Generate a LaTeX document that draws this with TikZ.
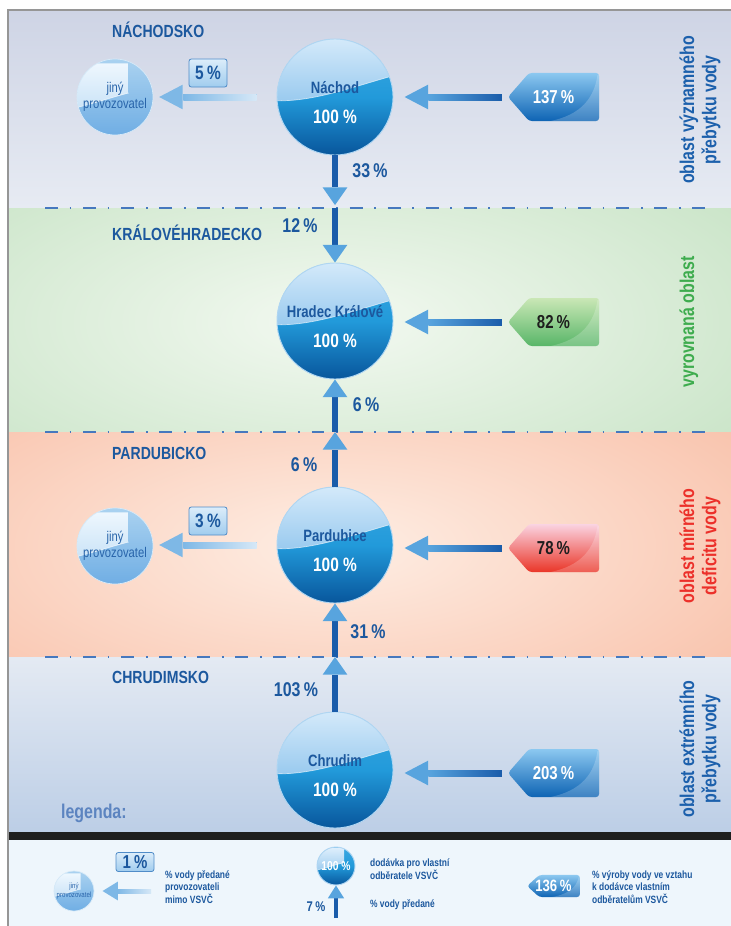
\documentclass[tikz,border=0pt]{standalone}
\usepackage{fontspec}
\setmainfont[FakeStretch=0.8]{Liberation Sans}
\usetikzlibrary{calc,positioning,arrows.meta}

\definecolor{titleblue}{RGB}{28,88,158}
\definecolor{sideblue}{RGB}{28,96,172}
\definecolor{sidegreen}{RGB}{62,172,78}
\definecolor{sidered}{RGB}{236,48,42}
\definecolor{legblue}{RGB}{92,132,192}
\definecolor{bandNtop}{RGB}{206,212,229}
\definecolor{bandNbot}{RGB}{231,235,243}
\definecolor{bandHout}{RGB}{197,226,195}
\definecolor{bandHin}{RGB}{243,249,241}
\definecolor{bandPout}{RGB}{248,190,166}
\definecolor{bandPin}{RGB}{254,238,228}
\definecolor{bandCtop}{RGB}{228,234,243}
\definecolor{bandCbot}{RGB}{188,206,230}
\definecolor{legendbg}{RGB}{238,246,252}
\definecolor{framegray}{RGB}{150,150,150}
\definecolor{dashblue}{RGB}{70,120,190}
\definecolor{ballcap}{RGB}{222,239,252}
\definecolor{ballcapdark}{RGB}{150,200,238}
\definecolor{balltop}{RGB}{60,168,226}
\definecolor{ballmid}{RGB}{34,154,218}
\definecolor{ballbot}{RGB}{8,86,156}
\definecolor{ballrim}{RGB}{176,214,242}
\definecolor{jinytop}{RGB}{170,210,240}
\definecolor{jinybot}{RGB}{112,174,228}
\definecolor{jinycap}{RGB}{238,247,254}
\definecolor{jinycapdark}{RGB}{198,225,246}
\definecolor{jinytext}{RGB}{40,100,170}
\definecolor{shaft}{RGB}{26,92,170}
\definecolor{head}{RGB}{88,164,222}
\definecolor{lighthead}{RGB}{126,184,230}
\definecolor{lightfade}{RGB}{214,232,247}
\definecolor{boxtop}{RGB}{220,237,250}
\definecolor{boxbot}{RGB}{160,204,238}
\definecolor{boxline}{RGB}{80,140,200}
\definecolor{tagbluetop}{RGB}{140,200,240}
\definecolor{tagbluebot}{RGB}{14,100,180}
\definecolor{taggreentop}{RGB}{202,231,182}
\definecolor{taggreenbot}{RGB}{88,182,104}
\definecolor{tagredtop}{RGB}{250,212,226}
\definecolor{tagredbot}{RGB}{234,54,40}
\definecolor{tagdark}{RGB}{30,30,30}
\definecolor{barblack}{RGB}{30,30,30}

\def\ballwave#1#2#3{%
  \begin{scope}[shift={(path picture bounding box.center)}, x=#1, y=#1]
    \shade[top color=#2, bottom color=#3] (-1.2,1.2) -- (-1.2,-0.05)
      .. controls (-0.45,-0.14) and (0.35,0.2) .. (1.2,0.42) -- (1.2,1.2) -- cycle;
    \draw[white, opacity=.6, line width=.6pt] (-1.2,-0.05)
      .. controls (-0.45,-0.14) and (0.35,0.2) .. (1.2,0.42);
  \end{scope}}
% tag outline: centre x, centre y, scaling, shading
\def\tagshape#1#2#3#4{%
  \begin{scope}[shift={(#1,#2)}, #3]
    \shade[#4, rounded corners=2.5pt] (-45.5,0) -- (-24.5,-24) -- (45.5,-24) -- (45.5,24) -- (-24.5,24) -- cycle;
    \begin{scope}
      \clip[rounded corners=2.5pt] (-45.5,0) -- (-24.5,-24) -- (45.5,-24) -- (45.5,24) -- (-24.5,24) -- cycle;
      \fill[white, opacity=.2] (-8,25) .. controls (22,20) and (40,6) .. (44,-22) -- (47,-22) -- (47,25) -- cycle;
    \end{scope}
  \end{scope}}

\tikzset{
  ball/.style={circle, inner sep=0pt, draw=ballrim, line width=.8pt,
    top color=balltop, bottom color=ballbot, middle color=ballmid},
  bigball/.style={ball, minimum size=3.48cm, path picture={\ballwave{1.74cm}{ballcap}{ballcapdark}}},
  legball/.style={ball, minimum size=1.14cm, path picture={\ballwave{0.57cm}{ballcap}{ballcapdark}},
    text=white, font=\bfseries\fontsize{11}{11}\selectfont},
  jinyball/.style={circle, inner sep=0pt, draw=ballrim!50!white, line width=.6pt,
    top color=jinytop, bottom color=jinybot, minimum size=2.28cm, align=center,
    text=jinytext, font=\fontsize{12}{14}\selectfont,
    path picture={\ballwave{1.14cm}{jinycap}{jinycapdark}}},
  legjiny/.style={jinyball, minimum size=1.2cm, font=\fontsize{6.5}{7.5}\selectfont,
    path picture={\ballwave{0.6cm}{jinycap}{jinycapdark}}},
  ballname/.style={text=titleblue, font=\bfseries\fontsize{14}{14}\selectfont},
  ballpct/.style={text=white, font=\bfseries\fontsize{16.5}{16.5}\selectfont},
  region/.style={anchor=west, text=titleblue, font=\bfseries\fontsize{15}{15}\selectfont},
  sidetext/.style={rotate=90, align=center, font=\bfseries\fontsize{17}{19}\selectfont},
  flowpct/.style={text=titleblue, font=\bfseries\fontsize{17}{17}\selectfont},
  legtext/.style={anchor=west, align=left, text=titleblue, font=\bfseries\fontsize{9}{10.6}\selectfont},
  pctbox/.style={draw=boxline, line width=.7pt, rounded corners=2pt, top color=boxtop,
    bottom color=boxbot, minimum width=1.14cm, minimum height=0.84cm, inner sep=0pt,
    text=titleblue, font=\bfseries\fontsize{16.5}{16.5}\selectfont},
  tagtext/.style={minimum width=2.73cm, minimum height=1.44cm, inner sep=0pt,
    font=\bfseries\fontsize{16}{16}\selectfont},
  banddash/.style={dashblue, line width=1.2pt, dash pattern=on 11pt off 10pt on 1.5pt off 10pt},
  vflow/.style={draw=shaft, line width=4.5pt,
    -{Triangle[length=15pt, width=21pt, line width=0pt, color=head]}},
  hflow/.style={draw=head, line width=5pt, shorten <=5pt, shorten >=9.5pt,
    -{Triangle[length=20pt, width=21pt, line width=0pt, color=head]}},
  lflow/.style={draw=lighthead, line width=5pt, shorten <=17pt, shorten >=5pt,
    -{Triangle[length=20pt, width=21pt, line width=0pt, color=lighthead]}},
  leglflow/.style={draw=lighthead, line width=3.5pt, shorten >=7pt,
    -{Triangle[length=13pt, width=16pt, line width=0pt, color=lighthead]}},
  legvflow/.style={draw=shaft, line width=3pt,
    -{Triangle[length=11pt, width=14pt, line width=0pt, color=head]}}
}

\begin{document}
\begin{tikzpicture}[x=0.03cm, y=-0.03cm]
  \useasboundingbox (0,0) rectangle (731,926);
  \fill[white] (0,0) rectangle (731,926);

  %%% bands
  \shade[top color=bandNtop, bottom color=bandNbot] (8,10) rectangle (731,208);
  \fill[bandHout] (8,208) rectangle (731,432);
  \begin{scope}
    \clip (8,208) rectangle (731,432);
    \shade[inner color=bandHin, outer color=bandHout] (335,322) ellipse (560 and 230);
  \end{scope}
  \fill[bandPout] (8,432) rectangle (731,657);
  \begin{scope}
    \clip (8,432) rectangle (731,657);
    \shade[inner color=bandPin, outer color=bandPout] (335,547) ellipse (560 and 230);
  \end{scope}
  \shade[top color=bandCtop, bottom color=bandCbot] (8,657) rectangle (731,833);
  \fill[barblack] (8,832) rectangle (731,840);
  \fill[legendbg] (8,840) rectangle (731,926);
  \draw[framegray, line width=1.2pt] (8,926) -- (8,10) -- (731,10);

  \draw[banddash] (45,208) -- (715,208);
  \draw[banddash] (45,432) -- (715,432);
  \draw[banddash] (45,657) -- (715,657);

  %%% region names
  \node[region] (nachodsko) at (108,30) {NÁCHODSKO};
  \node[region] (hradecko) at (108,233) {KRÁLOVÉHRADECKO};
  \node[region] (pardubicko) at (108,453) {PARDUBICKO};
  \node[region] (chrudimsko) at (108,677) {CHRUDIMSKO};

  \node[sidetext, text=sideblue] (sideN) at (700,110) {oblast významného\\přebytku vody};
  \node[sidetext, text=sidegreen] (sideH) at (689,322) {vyrovnaná oblast};
  \node[sidetext, text=sidered] (sideP) at (700,546) {oblast mírného\\deficitu vody};
  \node[sidetext, text=sideblue] (sideC) at (700,749) {oblast extrémního\\přebytku vody};

  %%% balls
  \node[bigball] (nachod) at (335,97) {};
  \node[bigball] (hradec) at (335,321) {};
  \node[bigball] (pardubice) at (335,545) {};
  \node[bigball] (chrudim) at (335,770) {};

  \node[ballname] (nachodname) at ($(nachod)+(0,-9)$) {Náchod};
  \node[ballpct] (nachodpct) at ($(nachod)+(0,20)$) {100 \%};
  \node[ballname] (hradecname) at ($(hradec)+(0,-9)$) {Hradec Králové};
  \node[ballpct] (hradecpct) at ($(hradec)+(0,20)$) {100 \%};
  \node[ballname] (pardubicename) at ($(pardubice)+(0,-9)$) {Pardubice};
  \node[ballpct] (pardubicepct) at ($(pardubice)+(0,20)$) {100 \%};
  \node[ballname] (chrudimname) at ($(chrudim)+(0,-9)$) {Chrudim};
  \node[ballpct] (chrudimpct) at ($(chrudim)+(0,20)$) {100 \%};

  \node[jinyball] (jinyN) at (115,97) {jiný\\provozovatel};
  \node[jinyball] (jinyP) at (115,546) {jiný\\provozovatel};
  \node[pctbox] (boxN) at (208,73) {5\,\%};
  \node[pctbox] (boxP) at (208,521) {3\,\%};

  %%% tags
  \tagshape{553.5}{97}{}{top color=tagbluetop, bottom color=tagbluebot}
  \node[tagtext, text=white] (tagN) at (553.5,97) {137\,\%};
  \tagshape{553.5}{322}{}{top color=taggreentop, bottom color=taggreenbot}
  \node[tagtext, text=tagdark] (tagH) at (553.5,322) {82\,\%};
  \tagshape{553.5}{548}{}{top color=tagredtop, bottom color=tagredbot}
  \node[tagtext, text=tagdark] (tagP) at (553.5,548) {78\,\%};
  \tagshape{553.5}{773}{}{top color=tagbluetop, bottom color=tagbluebot}
  \node[tagtext, text=white] (tagC) at (553.5,773) {203\,\%};

  %%% flows
  \coordinate (b12) at (335,208);
  \coordinate (b23) at (335,432);
  \coordinate (b34) at (335,657);

  \draw[vflow, shorten >=2.5pt] (nachod.south) -- (b12);
  \draw[vflow] (b12) -- (hradec.north);
  \draw[vflow] (b23) -- (hradec.south);
  \draw[vflow] (pardubice.north) -- (b23);
  \draw[vflow] (b34) -- (pardubice.south);
  \draw[vflow] (chrudim.north) -- (b34);

  \node[flowpct] (pct33) at (370,171) {33\,\%};
  \node[flowpct] (pct12) at (300,226) {12\,\%};
  \node[flowpct] (pct6h) at (366,405) {6\,\%};
  \node[flowpct] (pct6p) at (304,465) {6\,\%};
  \node[flowpct] (pct31) at (368,632) {31\,\%};
  \node[flowpct] (pct103) at (296,690) {103\,\%};

  \draw[hflow] (tagN.west) -- (tagN.west -| nachod.east);
  \shade[left color=head, right color=shaft] ($(tagN.west -| nachod.east)+(35,-3)$) rectangle ($(tagN.west)+(-6,3)$);
  \draw[hflow] (tagH.west) -- (tagH.west -| hradec.east);
  \shade[left color=head, right color=shaft] ($(tagH.west -| hradec.east)+(35,-3)$) rectangle ($(tagH.west)+(-6,3)$);
  \draw[hflow] (tagP.west) -- (tagP.west -| pardubice.east);
  \shade[left color=head, right color=shaft] ($(tagP.west -| pardubice.east)+(35,-3)$) rectangle ($(tagP.west)+(-6,3)$);
  \draw[hflow] (tagC.west) -- (tagC.west -| chrudim.east);
  \shade[left color=head, right color=shaft] ($(tagC.west -| chrudim.east)+(35,-3)$) rectangle ($(tagC.west)+(-6,3)$);

  \draw[lflow] (nachod.west) -- (nachod.west -| jinyN.east);
  \shade[left color=lighthead, right color=lightfade] ($(nachod.west -| jinyN.east)+(30,-3)$) rectangle ($(nachod.west)+(-20,3)$);
  \draw[lflow] (pardubice.west) -- (pardubice.west -| jinyP.east);
  \shade[left color=lighthead, right color=lightfade] ($(pardubice.west -| jinyP.east)+(30,-3)$) rectangle ($(pardubice.west)+(-20,3)$);

  %%% legend
  \node[anchor=west, text=legblue, font=\bfseries\fontsize{17}{17}\selectfont] (legenda) at (57,813) {legenda:};

  \node[legjiny] (jinyL) at (74,891) {jiný\\provozovatel};
  \node[pctbox, minimum height=0.57cm, font=\bfseries\fontsize{16}{16}\selectfont] (boxL) at (135,862) {1\,\%};
  \coordinate (legfrom) at (151,891);
  \draw[leglflow] (legfrom) -- (legfrom -| jinyL.east);
  \shade[left color=lighthead, right color=lightfade] ($(legfrom -| jinyL.east)+(23,-2)$) rectangle ($(legfrom)+(0,2)$);
  \node[legtext] (legtext1) at (161,887) {\% vody předané\\provozovateli\\mimo VSVČ};

  \node[legball] (legball) at (336,866) {100 \%};
  \coordinate (legup) at (336,918);
  \draw[legvflow] (legup) -- (legball.south);
  \node[flowpct, font=\bfseries\fontsize{12}{12}\selectfont] (pct7) at (316,907) {7\,\%};
  \node[legtext] (legtext2) at (366,869) {dodávka pro vlastní\\odběratele VSVČ};
  \node[legtext] (legtext3) at (366,905) {\% vody předané};

  \tagshape{553.5}{886}{xscale=.58, yscale=.46}{top color=tagbluetop, bottom color=tagbluebot}
  \node[tagtext, minimum width=1.59cm, minimum height=0.66cm, text=white,
    font=\bfseries\fontsize{14}{14}\selectfont] (tagL) at (553.5,886) {136\,\%};
  \node[legtext] (legtext4) at (588,887) {\% výroby vody ve vztahu\\k dodávce vlastním\\odběratelům VSVČ};
\end{tikzpicture}
\end{document}
